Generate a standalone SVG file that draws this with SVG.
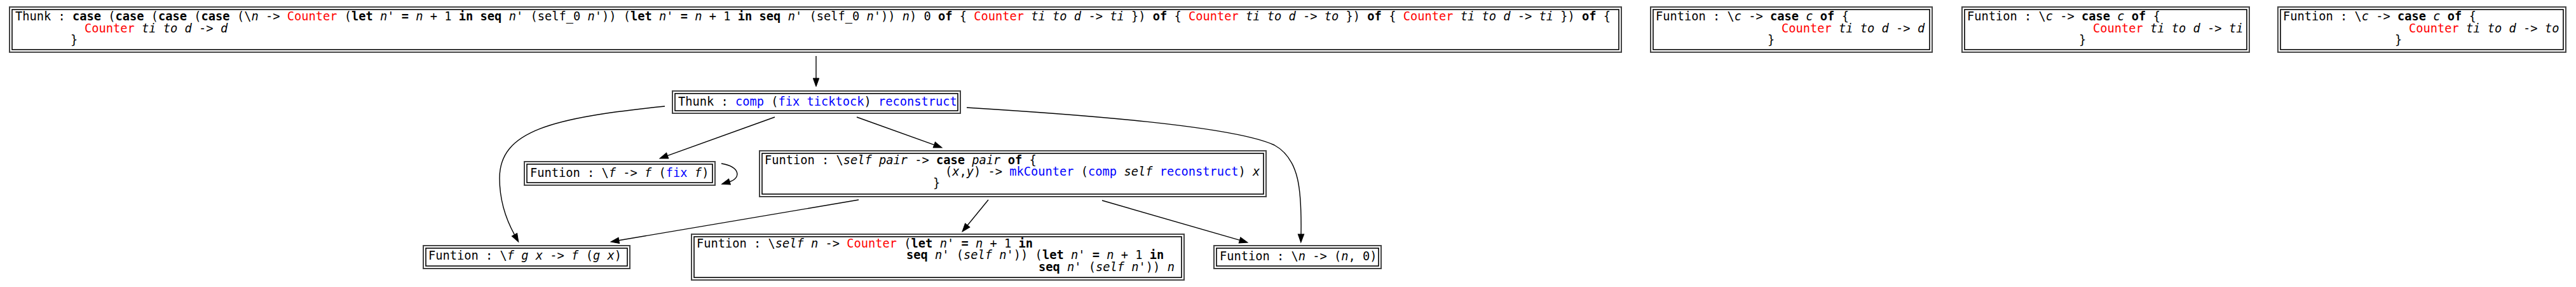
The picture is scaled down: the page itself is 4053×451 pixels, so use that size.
<svg xmlns="http://www.w3.org/2000/svg" width="4053" height="451" viewBox="0 0 4053 451">
<style>
.t { font-family: "DejaVu Sans Mono", "Liberation Mono", monospace; font-size: 18.7px; fill: #000; white-space: pre; }
.b { font-weight: bold; }
.i { font-style: italic; }
.r { fill: #ff0000; }
.u { fill: #0000ff; }
.o { fill: #fff; stroke: #444; stroke-width: 2; }
.n { fill: none; stroke: #000; stroke-width: 1.6; }
.e { fill: none; stroke: #000; stroke-width: 1.4; marker-end: url(#ah); }
</style>
<defs>
<marker id="ah" markerWidth="14" markerHeight="10" refX="0" refY="5" orient="auto" markerUnits="userSpaceOnUse" overflow="visible">
<path d="M0,0.3 L13,5 L0,9.7 z" fill="#000" stroke="#000" stroke-width="1"/>
</marker>
</defs>
<rect width="4053" height="451" fill="#fff"/>

<g id="edges">
<path class="e" d="M1284,88 L1284,123"/>
<path class="e" d="M1219,184 L1050.2,244.6"/>
<path class="e" d="M1348,184 L1469.8,227.6"/>
<path class="e" d="M1046,167 C870,185 786,205 786,280 C786,320 798,348 809.5,368.8"/>
<path class="e" d="M1521,169 C1700,180 1940,198 2005,228 C2045,250 2048,300 2047,368"/>
<path class="e" d="M1135,257 C1165,262 1166,280 1148,285.5"/>
<path class="e" d="M1351,314 L973.8,377.8"/>
<path class="e" d="M1555,314 L1522.2,354"/>
<path class="e" d="M1734,315 L1950.5,377.4"/>
</g>

<g id="thunk_top">
<rect class="o" x="15" y="11" width="2536" height="71"/>
<rect class="n" x="19" y="15" width="2528" height="63"/>
<text class="t" x="24" y="32">Thunk : <tspan class="b">case</tspan> (<tspan class="b">case</tspan> (<tspan class="b">case</tspan> (<tspan class="b">case</tspan> (\<tspan class="i">n</tspan> -&gt; <tspan class="r">Counter</tspan> (<tspan class="b">let</tspan> <tspan class="i">n'</tspan> <tspan class="b">=</tspan> <tspan class="i">n</tspan> + 1 <tspan class="b">in</tspan> <tspan class="b">seq</tspan> <tspan class="i">n'</tspan> (self_0 <tspan class="i">n'</tspan>)) (<tspan class="b">let</tspan> <tspan class="i">n'</tspan> <tspan class="b">=</tspan> <tspan class="i">n</tspan> + 1 <tspan class="b">in</tspan> <tspan class="b">seq</tspan> <tspan class="i">n'</tspan> (self_0 <tspan class="i">n'</tspan>)) <tspan class="i">n</tspan>) 0 <tspan class="b">of</tspan> { <tspan class="r">Counter</tspan> <tspan class="i">ti</tspan> <tspan class="i">to</tspan> <tspan class="i">d</tspan> -&gt; <tspan class="i">ti</tspan> }) <tspan class="b">of</tspan> { <tspan class="r">Counter</tspan> <tspan class="i">ti</tspan> <tspan class="i">to</tspan> <tspan class="i">d</tspan> -&gt; <tspan class="i">to</tspan> }) <tspan class="b">of</tspan> { <tspan class="r">Counter</tspan> <tspan class="i">ti</tspan> <tspan class="i">to</tspan> <tspan class="i">d</tspan> -&gt; <tspan class="i">ti</tspan> }) <tspan class="b">of</tspan> {</text>
<text class="t" x="133" y="51"><tspan class="r">Counter</tspan> <tspan class="i">ti</tspan> <tspan class="i">to</tspan> <tspan class="i">d</tspan> -&gt; <tspan class="i">d</tspan></text>
<text class="t" x="111" y="69">}</text>
</g>

<g id="fun_d">
<rect class="o" x="2597" y="11" width="443" height="71"/>
<rect class="n" x="2601" y="15" width="435" height="63"/>
<text class="t" x="2605" y="32">Funtion : \<tspan class="i">c</tspan> -&gt; <tspan class="b">case</tspan> <tspan class="i">c</tspan> <tspan class="b">of</tspan> {</text>
<text class="t" x="2803" y="51"><tspan class="r">Counter</tspan> <tspan class="i">ti</tspan> <tspan class="i">to</tspan> <tspan class="i">d</tspan> -&gt; <tspan class="i">d</tspan></text>
<text class="t" x="2781" y="69">}</text>
</g>

<g id="fun_ti">
<rect class="o" x="3087" y="11" width="452" height="71"/>
<rect class="n" x="3091" y="15" width="444" height="63"/>
<text class="t" x="3095" y="32">Funtion : \<tspan class="i">c</tspan> -&gt; <tspan class="b">case</tspan> <tspan class="i">c</tspan> <tspan class="b">of</tspan> {</text>
<text class="t" x="3293" y="51"><tspan class="r">Counter</tspan> <tspan class="i">ti</tspan> <tspan class="i">to</tspan> <tspan class="i">d</tspan> -&gt; <tspan class="i">ti</tspan></text>
<text class="t" x="3271" y="69">}</text>
</g>

<g id="fun_to">
<rect class="o" x="3584" y="11" width="453" height="71"/>
<rect class="n" x="3588" y="15" width="445" height="63"/>
<text class="t" x="3592" y="32">Funtion : \<tspan class="i">c</tspan> -&gt; <tspan class="b">case</tspan> <tspan class="i">c</tspan> <tspan class="b">of</tspan> {</text>
<text class="t" x="3790" y="51"><tspan class="r">Counter</tspan> <tspan class="i">ti</tspan> <tspan class="i">to</tspan> <tspan class="i">d</tspan> -&gt; <tspan class="i">to</tspan></text>
<text class="t" x="3768" y="69">}</text>
</g>

<g id="thunk_comp">
<rect class="o" x="1058" y="143" width="453" height="35"/>
<rect class="n" x="1062" y="147" width="445" height="27"/>
<text class="t" x="1067" y="166">Thunk : <tspan class="u">comp</tspan> (<tspan class="u">fix</tspan> <tspan class="u">ticktock</tspan>) <tspan class="u">reconstruct</tspan></text>
</g>

<g id="fun_fix">
<rect class="o" x="825" y="254" width="300" height="37"/>
<rect class="n" x="829" y="258" width="292" height="29"/>
<text class="t" x="834" y="278">Funtion : \<tspan class="i">f</tspan> -&gt; <tspan class="i">f</tspan> (<tspan class="u">fix</tspan> <tspan class="i">f</tspan>)</text>
</g>

<g id="fun_pair">
<rect class="o" x="1195" y="237" width="797" height="72"/>
<rect class="n" x="1199" y="241" width="789" height="64"/>
<text class="t" x="1203" y="258">Funtion : \<tspan class="i">self</tspan> <tspan class="i">pair</tspan> -&gt; <tspan class="b">case</tspan> <tspan class="i">pair</tspan> <tspan class="b">of</tspan> {</text>
<text class="t" x="1487" y="276">(<tspan class="i">x</tspan>,<tspan class="i">y</tspan>) -&gt; <tspan class="u">mkCounter</tspan> (<tspan class="u">comp</tspan> <tspan class="i">self</tspan> <tspan class="u">reconstruct</tspan>) <tspan class="i">x</tspan></text>
<text class="t" x="1468" y="294">}</text>
</g>

<g id="fun_comp">
<rect class="o" x="666" y="386" width="325" height="36"/>
<rect class="n" x="670" y="390" width="317" height="28"/>
<text class="t" x="674" y="408">Funtion : \<tspan class="i">f</tspan> <tspan class="i">g</tspan> <tspan class="i">x</tspan> -&gt; <tspan class="i">f</tspan> (<tspan class="i">g</tspan> <tspan class="i">x</tspan>)</text>
</g>

<g id="fun_ticktock">
<rect class="o" x="1088" y="368" width="775" height="72"/>
<rect class="n" x="1092" y="372" width="767" height="64"/>
<text class="t" x="1096" y="389">Funtion : \<tspan class="i">self</tspan> <tspan class="i">n</tspan> -&gt; <tspan class="r">Counter</tspan> (<tspan class="b">let</tspan> <tspan class="i">n'</tspan> <tspan class="b">=</tspan> <tspan class="i">n</tspan> + 1 <tspan class="b">in</tspan></text>
<text class="t" x="1426" y="407"><tspan class="b">seq</tspan> <tspan class="i">n'</tspan> (<tspan class="i">self</tspan> <tspan class="i">n'</tspan>)) (<tspan class="b">let</tspan> <tspan class="i">n'</tspan> <tspan class="b">=</tspan> <tspan class="i">n</tspan> + 1 <tspan class="b">in</tspan></text>
<text class="t" x="1634" y="426"><tspan class="b">seq</tspan> <tspan class="i">n'</tspan> (<tspan class="i">self</tspan> <tspan class="i">n'</tspan>)) <tspan class="i">n</tspan></text>
</g>

<g id="fun_init">
<rect class="o" x="1910" y="386" width="263" height="36"/>
<rect class="n" x="1914" y="390" width="255" height="28"/>
<text class="t" x="1919" y="409">Funtion : \<tspan class="i">n</tspan> -&gt; (<tspan class="i">n</tspan>, 0)</text>
</g>
</svg>
